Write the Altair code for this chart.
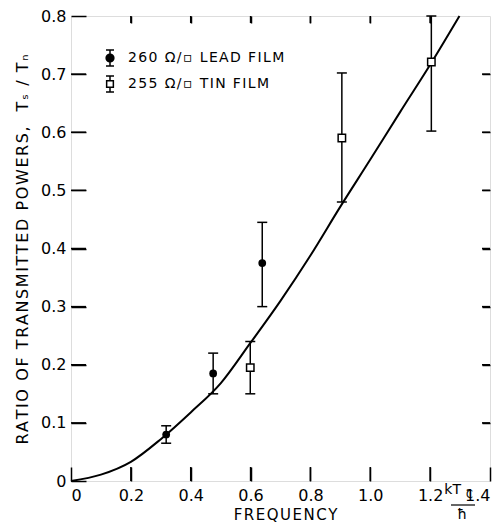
import altair as alt
import pandas as pd

# ---------------- data ----------------
lead_x = [0.318, 0.475, 0.639]
lead_y = [0.080, 0.185, 0.375]
lead_lo = [0.065, 0.150, 0.300]
lead_hi = [0.095, 0.220, 0.445]

tin_x = [0.599, 0.905, 1.204]
tin_y = [0.195, 0.590, 0.721]
tin_lo = [0.150, 0.480, 0.602]
tin_hi = [0.240, 0.702, 0.800]

curve_x = [0.0, 0.1, 0.2, 0.3, 0.4, 0.5, 0.6, 0.7, 0.8, 0.9, 1.0, 1.1, 1.2, 1.298]
curve_y = [0.0, 0.011, 0.033, 0.072, 0.118, 0.168, 0.238, 0.310, 0.388, 0.472, 0.553, 0.635, 0.716, 0.800]

x_ticks = [0, 0.2, 0.4, 0.6, 0.8, 1.0, 1.2, 1.4]
y_ticks = [0, 0.1, 0.2, 0.3, 0.4, 0.5, 0.6, 0.7, 0.8]
x_inner_ticks = [0.2, 0.4, 0.6, 0.8, 1.0, 1.2]
y_inner_ticks = [0.1, 0.2, 0.3, 0.4, 0.5, 0.6, 0.7]

legend_labels = ["260 Ω/▫ LEAD FILM", "255 Ω/▫ TIN FILM"]
x_title = "FREQUENCY"
y_title = "RATIO OF TRANSMITTED POWERS,  Tₛ / Tₙ"

FONT = "DejaVu Sans"
W, H = 419, 465
X0, X1 = 0, 1.4
Y0, Y1 = 0, 0.8


def spaced(s):
    return "\u200a".join(s)


lead = pd.DataFrame({"x": lead_x, "y": lead_y, "lo": lead_lo, "hi": lead_hi})
tin = pd.DataFrame({"x": tin_x, "y": tin_y, "lo": tin_lo, "hi": tin_hi})
curve = pd.DataFrame({"x": curve_x, "y": curve_y})
xt = pd.DataFrame({"x": x_inner_ticks})
yt = pd.DataFrame({"y": y_inner_ticks})
leg1 = pd.DataFrame({"label": [spaced(legend_labels[0])]})
leg2 = pd.DataFrame({"label": [spaced(legend_labels[1])]})
unit = pd.DataFrame({"a": ["kT"], "b": ["C"], "c": ["ħ"]})

xs = alt.Scale(domain=[X0, X1], nice=False, zero=False)
ys = alt.Scale(domain=[Y0, Y1], nice=False, zero=False)


def X(f):
    return alt.X(f, scale=xs, axis=None)


def Y(f):
    return alt.Y(f, scale=ys, axis=None)


lab_expr = "datum.value == 0 ? '0' : format(datum.value, '.1f')"

# inward ticks: axes shifted inside the frame by their tick length
x_axis = alt.Axis(orient="bottom", values=x_ticks, labelExpr=lab_expr, domain=False, grid=False,
                  offset=-14, ticks=True, tickSize=14, tickWidth=1.5, tickColor="black",
                  labelFont=FONT, labelFontSize=16, labelColor="black", labelPadding=6,
                  title=spaced(x_title), titleFont=FONT, titleFontSize=15, titleFontWeight="normal",
                  titleColor="black", titleX=214, titleY=47, titleBaseline="middle", titleAlign="center")
y_axis = alt.Axis(orient="left", values=y_ticks, labelExpr=lab_expr, domain=False, grid=False,
                  offset=-15, ticks=True, tickSize=15, tickWidth=1.5, tickColor="black",
                  labelFont=FONT, labelFontSize=16, labelColor="black", labelPadding=5,
                  title=spaced(y_title), titleFont=FONT, titleFontSize=16, titleFontWeight="normal",
                  titleColor="black", titleAngle=270, titleX=-64, titleY=233,
                  titleBaseline="middle", titleAlign="center")
top_axis = alt.Axis(orient="top", values=x_inner_ticks, labels=False, domain=False, grid=False,
                    offset=-7, ticks=True, tickSize=7, tickWidth=1.5, tickColor="black", title=None)
right_axis = alt.Axis(orient="right", values=y_inner_ticks, labels=False, domain=False, grid=False,
                      offset=-8, ticks=True, tickSize=8, tickWidth=1.5, tickColor="black", title=None)

layers = []

layers.append(alt.Chart(curve).mark_line(color="black", strokeWidth=2, interpolate="monotone").encode(
    x=alt.X("x:Q", scale=xs, axis=x_axis),
    y=alt.Y("y:Q", scale=ys, axis=y_axis),
))
# invisible copy that carries the top and right tick axes
layers.append(alt.Chart(curve).mark_line(opacity=0).encode(
    x=alt.X("x:Q", scale=xs, axis=top_axis),
    y=alt.Y("y:Q", scale=ys, axis=right_axis),
))

# inward frame ticks as data-driven rules as well (same construction as the error bars)
layers.append(alt.Chart(xt).transform_calculate(
    lo=f"{Y0}", hi=f"{Y0 + (Y1 - Y0) * 14 / H}").mark_rule(color="black", strokeWidth=1.5).encode(
    x=X("x:Q"), y=Y("lo:Q"), y2="hi:Q"))
layers.append(alt.Chart(xt).transform_calculate(
    lo=f"{Y1 - (Y1 - Y0) * 7 / H}", hi=f"{Y1}").mark_rule(color="black", strokeWidth=1.5).encode(
    x=X("x:Q"), y=Y("lo:Q"), y2="hi:Q"))
layers.append(alt.Chart(yt).transform_calculate(
    lo=f"{X0}", hi=f"{X0 + (X1 - X0) * 15 / W}").mark_rule(color="black", strokeWidth=1.5).encode(
    y=Y("y:Q"), x=X("lo:Q"), x2="hi:Q"))
layers.append(alt.Chart(yt).transform_calculate(
    lo=f"{X1 - (X1 - X0) * 8 / W}", hi=f"{X1}").mark_rule(color="black", strokeWidth=1.5).encode(
    y=Y("y:Q"), x=X("lo:Q"), x2="hi:Q"))

# error bars
for df in (lead, tin):
    layers.append(alt.Chart(df).mark_rule(color="black", strokeWidth=1.5).encode(
        x=X("x:Q"), y=Y("lo:Q"), y2="hi:Q"))
    for f in ("lo", "hi"):
        layers.append(alt.Chart(df).mark_tick(color="black", thickness=1.5, size=10,
                                              orient="horizontal", opacity=1).encode(
            x=X("x:Q"), y=Y(f + ":Q")))

layers.append(alt.Chart(lead).mark_point(shape="circle", filled=True, color="black", size=60, opacity=1).encode(
    x=X("x:Q"), y=Y("y:Q")))
layers.append(alt.Chart(tin).mark_point(shape="square", filled=True, fill="white", stroke="black",
                                        strokeWidth=1.5, size=55, opacity=1).encode(
    x=X("x:Q"), y=Y("y:Q")))

# legend drawn by hand inside the plot
r1, r2 = 42, 68
sx = 39
for r, df, shape, fill, size in ((r1, leg1, "circle", "black", 60), (r2, leg2, "square", "white", 45)):
    layers.append(alt.Chart(df).mark_rule(color="black", strokeWidth=1.5).encode(
        x=alt.value(sx), y=alt.value(r - 8), y2=alt.value(r + 8)))
    layers.append(alt.Chart(df).mark_rule(color="black", strokeWidth=1.5).encode(
        x=alt.value(sx - 4), x2=alt.value(sx + 4), y=alt.value(r - 8)))
    layers.append(alt.Chart(df).mark_rule(color="black", strokeWidth=1.5).encode(
        x=alt.value(sx - 4), x2=alt.value(sx + 4), y=alt.value(r + 8)))
    layers.append(alt.Chart(df).mark_point(shape=shape, filled=True, fill=fill, stroke="black",
                                           strokeWidth=1.5, size=size, opacity=1).encode(
        x=alt.value(sx), y=alt.value(r)))
    layers.append(alt.Chart(df).mark_text(font=FONT, fontSize=14, align="left", baseline="middle",
                                          color="black").encode(
        text="label:N", x=alt.value(57), y=alt.value(r)))

# kTc / hbar unit annotation on the x axis
layers.append(alt.Chart(unit).mark_text(font=FONT, fontSize=14, align="right", baseline="middle", color="black").encode(
    text="a:N", x=alt.value(390), y=alt.value(H + 9)))
layers.append(alt.Chart(unit).mark_text(font=FONT, fontSize=10, align="left", baseline="middle", color="black").encode(
    text="b:N", x=alt.value(395), y=alt.value(H + 14)))
layers.append(alt.Chart(unit).mark_rule(color="black", strokeWidth=1.2).encode(
    x=alt.value(380), x2=alt.value(404), y=alt.value(H + 24)))
layers.append(alt.Chart(unit).mark_text(font=FONT, fontSize=14, align="center", baseline="middle", color="black").encode(
    text="c:N", x=alt.value(391), y=alt.value(H + 34)))

chart = alt.layer(*layers).resolve_axis(x="independent", y="independent").properties(
    width=W, height=H,
    autosize=alt.AutoSizeParams(type="none"),
    padding={"left": 71, "top": 16, "right": 13, "bottom": 42},
).configure_view(
    stroke="black", strokeWidth=2,
).configure(background="white")

chart.save("out.html", embed_options={"renderer": "svg", "actions": False})
